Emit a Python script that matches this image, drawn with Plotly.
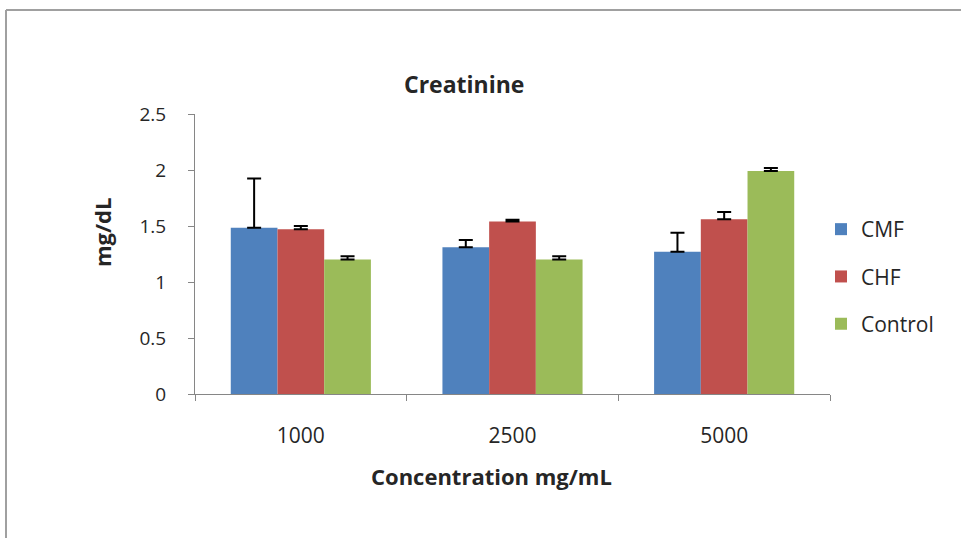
import plotly.graph_objects as go

categories = ["1000", "2500", "5000"]
series_names = ["CMF", "CHF", "Control"]
cmf = [1.485, 1.31, 1.27]
chf = [1.47, 1.54, 1.56]
control = [1.20, 1.20, 1.99]
cmf_err = [0.44, 0.065, 0.17]
chf_err = [0.03, 0.015, 0.065]
control_err = [0.03, 0.03, 0.028]
colors = ["#4F81BD", "#C0504D", "#9BBB59"]

W, H = 961, 538
L, R, T, B = 195, 131, 114, 144
pw, ph = W - L - R, H - T - B

def px(x):
    return (x - L) / pw

def py(y):
    return (H - B - y) / ph

fig = go.Figure()
for i, (name, vals, err) in enumerate(zip(series_names, [cmf, chf, control], [cmf_err, chf_err, control_err])):
    fig.add_trace(go.Bar(
        x=categories, y=vals, name=name, legendgroup=name,
        marker=dict(color=colors[i], line=dict(width=0)),
        error_y=dict(type="data", array=err, arrayminus=[0] * len(err), symmetric=False,
                     color="black", thickness=2, width=7),
    ))

font_family = "Open Sans, DejaVu Sans, sans-serif"
txt = "#262626"
fig.update_layout(
    width=W, height=H,
    margin=dict(l=L, r=R, t=T, b=B, autoexpand=False),
    paper_bgcolor="white", plot_bgcolor="white",
    barmode="group", bargap=0.338, bargroupgap=0,
    showlegend=True,
    legend=dict(x=px(821), y=py(209), xanchor="left", yanchor="top",
                font=dict(family=font_family, size=21, color=txt),
                tracegroupgap=17, traceorder="grouped", itemwidth=30,
                bgcolor="rgba(0,0,0,0)"),
    font=dict(family=font_family, color=txt),
    xaxis=dict(type="category", showline=True, linecolor="#868686", linewidth=1,
               ticks="outside", tickson="boundaries", ticklen=6, tickcolor="#868686",
               ticklabelstandoff=23,
               tickfont=dict(size=21, color=txt), showgrid=False, zeroline=False),
    yaxis=dict(range=[0, 2.5], tickvals=[0, 0.5, 1, 1.5, 2, 2.5],
               ticktext=["0", "0.5", "1", "1.5", "2", "2.5"],
               showline=True, linecolor="#868686", linewidth=1,
               ticks="outside", ticklen=6, tickcolor="#868686",
               ticklabelstandoff=18,
               tickfont=dict(size=19, color=txt), showgrid=False, zeroline=False),
    annotations=[
        dict(text="<b>Creatinine</b>", x=px(464), y=py(84), xref="paper", yref="paper",
             showarrow=False, font=dict(size=23, color=txt), xanchor="center", yanchor="middle"),
        dict(text="<b>mg/dL</b>", x=px(102), y=py(232), xref="paper", yref="paper",
             showarrow=False, textangle=-90, font=dict(size=22, color=txt),
             xanchor="center", yanchor="middle"),
        dict(text="<b>Concentration mg/mL</b>", x=px(491), y=py(476), xref="paper", yref="paper",
             showarrow=False, font=dict(size=22, color=txt), xanchor="center", yanchor="middle"),
    ],
    shapes=[
        dict(type="line", xref="paper", yref="paper", x0=px(6), x1=px(W + 5), y0=py(10), y1=py(10),
             line=dict(color="#A0A0A0", width=2)),
        dict(type="line", xref="paper", yref="paper", x0=px(6), x1=px(6), y0=py(10), y1=py(H + 5),
             line=dict(color="#A0A0A0", width=2)),
    ],
)

fig.write_html("out.html", config={"displayModeBar": False},
               post_script="document.body.style.margin='0';")
